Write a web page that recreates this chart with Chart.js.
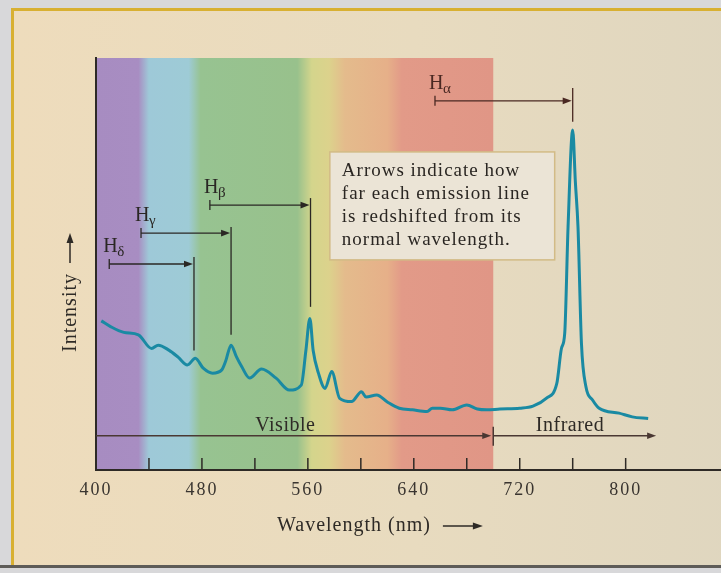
<!DOCTYPE html>
<html><head><meta charset="utf-8">
<script src="https://cdn.jsdelivr.net/npm/chart.js@4"></script>
<style>
html,body{margin:0;padding:0;background:#d4d4d6;}
#wrap{position:relative;width:721px;height:573px;overflow:hidden;background:#d8d8da;}
#frame{position:absolute;left:11px;top:8px;width:730px;height:554px;border:3px solid #d8b032;border-right:none;
  background:linear-gradient(90deg,#eedcbc 0%,#e8dbbf 55%,#dfd6bf 100%);}
#shade{position:absolute;left:0;top:565px;width:721px;height:3px;background:#5e5c58;}
canvas{position:absolute;left:0;top:0;}
</style></head>
<body><div id="wrap"><div id="frame"></div><div id="shade"></div><canvas id="c" width="721" height="573"></canvas></div>
<script>
// ---- data ----
const wavelengths = [404, 411, 421, 432, 442, 447, 455, 462, 469, 475, 481, 488, 495, 498, 502, 506, 510, 516, 525, 536, 546, 555, 558.5, 561.5, 564, 568, 573, 578, 584, 593, 600.5, 604, 612, 620, 629, 639, 650, 654, 660, 669, 680, 688, 695, 705, 720, 730, 740, 748, 751.5, 754, 756.5, 760, 762, 764, 766.6, 770, 775, 780, 795, 805, 817];
const intensities = [36.2, 34.8, 33.4, 32.8, 29.5, 30.3, 29.1, 27.4, 25.5, 27.1, 24.7, 23.5, 24.3, 26.5, 30.3, 27.5, 25.1, 22.3, 24.5, 22.3, 19.4, 20.6, 29.0, 36.8, 29.0, 23.5, 19.8, 23.9, 17.4, 16.6, 19.0, 17.7, 18.2, 16.5, 15.0, 14.6, 14.2, 15.0, 15.0, 14.6, 15.8, 14.8, 14.6, 14.8, 15.0, 15.5, 17.4, 21.0, 29.5, 33.3, 59.0, 82.5, 70.0, 59.0, 30.8, 20.2, 17.0, 15.0, 13.8, 12.9, 12.5];
const xTickLabels = [400, 480, 560, 640, 720, 800];
const xTickMarks = [440, 480, 520, 560, 600, 640, 680, 720, 760, 800];
const bandStops = [400, 432, 440, 470, 479, 552, 563, 576, 588, 620, 631, 700];
const bandColors = ['#a78cc1', '#a88dc2', '#9ec9d8', '#9ecbd6', '#97c391', '#98c18c', '#d4d58c', '#dcd28c', '#e4bb8c', '#e6b089', '#e29a88', '#e09686'];
const lineNames = ['δ', 'γ', 'β', 'α'];
const restWavelengths = [410, 434, 486, 656];
const observedWavelengths = [474, 502, 562, 760];
const arrowLevels = [50.0, 57.5, 64.3, 89.6];
const lineTops = [51.7, 59.0, 66.0, 92.7];
const lineBottoms = [29.0, 32.8, 39.6, 84.5];
const regionNames = ['Visible', 'Infrared'];
const regionStarts = [400, 700];
const regionEnds = [700, 823];
const regionLabelCenters = [543, 758];
const regionLevel = 8.3;
const noteLines = ['Arrows indicate how', 'far each emission line', 'is redshifted from its', 'normal wavelength.'];
const noteBox = {x0: 576.6, x1: 746.4, yTop: 77.2, yBottom: 51.0};
const xTitle = 'Wavelength (nm)';
const yTitle = 'Intensity';

const SERIF = '"Liberation Serif", "DejaVu Serif", serif';

function arrowHead(ctx, x, y, dir, len, half) {
  ctx.beginPath();
  if (dir === 'right') { ctx.moveTo(x, y); ctx.lineTo(x - len, y - half); ctx.lineTo(x - len, y + half); }
  ctx.closePath(); ctx.fill();
}

const decor = {
  id: 'decor',
  beforeDraw(chart) {
    const {ctx, chartArea} = chart;
    const xs = chart.scales.x;
    const x0 = xs.getPixelForValue(bandStops[0]);
    const x1 = xs.getPixelForValue(bandStops[bandStops.length - 1]);
    const g = ctx.createLinearGradient(x0, 0, x1, 0);
    bandStops.forEach((s, i) => g.addColorStop((s - bandStops[0]) / (bandStops[bandStops.length - 1] - bandStops[0]), bandColors[i]));
    ctx.save();
    ctx.fillStyle = g;
    ctx.fillRect(x0, chartArea.top, x1 - x0, chartArea.bottom - chartArea.top);
    ctx.restore();
    ctx.letterSpacing = '2px';
  },
  afterDatasetsDraw(chart) {
    const {ctx, chartArea} = chart;
    const xs = chart.scales.x, ys = chart.scales.y;
    const px = v => xs.getPixelForValue(v), py = v => ys.getPixelForValue(v);
    ctx.save();
    ctx.letterSpacing = '0px';
    // inward tick marks
    ctx.strokeStyle = '#2e2a26'; ctx.lineWidth = 1.5;
    xTickMarks.forEach(v => {
      ctx.beginPath(); ctx.moveTo(px(v), chartArea.bottom); ctx.lineTo(px(v), chartArea.bottom - 12); ctx.stroke();
    });
    // region arrows
    const ry = py(regionLevel);
    ctx.strokeStyle = '#4a3833'; ctx.fillStyle = '#4a3833'; ctx.lineWidth = 1.5;
    regionNames.forEach((name, i) => {
      const a = px(regionStarts[i]), b = px(regionEnds[i]);
      ctx.beginPath(); ctx.moveTo(a, ry); ctx.lineTo(b - 6, ry); ctx.stroke();
      arrowHead(ctx, i === 0 ? b - 2 : b, ry, 'right', 9, 3.2);
      ctx.font = '20px ' + SERIF; ctx.textAlign = 'center'; ctx.textBaseline = 'alphabetic';
      ctx.letterSpacing = '0.5px';
      ctx.fillStyle = '#2e2a26';
      ctx.fillText(name, px(regionLabelCenters[i]), ry - 5);
      ctx.letterSpacing = '0px';
      ctx.fillStyle = '#4a3833';
    });
    const vx = px(regionEnds[0]);
    ctx.beginPath(); ctx.moveTo(vx, ry - 9); ctx.lineTo(vx, ry + 10); ctx.stroke();
    // emission-line arrows
    lineNames.forEach((nm, i) => {
      const col = i === 3 ? '#4a2822' : '#2a2724';
      ctx.strokeStyle = col; ctx.fillStyle = col; ctx.lineWidth = 1.3;
      const y = py(arrowLevels[i]);
      const a = px(restWavelengths[i]), b = px(observedWavelengths[i]);
      ctx.beginPath(); ctx.moveTo(a, y - 5); ctx.lineTo(a, y + 5); ctx.stroke();
      ctx.beginPath(); ctx.moveTo(a, y); ctx.lineTo(b - 7, y); ctx.stroke();
      arrowHead(ctx, b - 1, y, 'right', 9, 3.3);
      ctx.beginPath(); ctx.moveTo(b, py(lineTops[i])); ctx.lineTo(b, py(lineBottoms[i])); ctx.stroke();
      ctx.textAlign = 'left'; ctx.textBaseline = 'alphabetic';
      ctx.font = '20px ' + SERIF;
      ctx.fillText('H', a - 6, y - 12);
      ctx.font = '15px ' + SERIF;
      ctx.fillText(nm, a + 8, y - 8);
    });
    // note box
    const bx0 = px(noteBox.x0), bx1 = px(noteBox.x1), by0 = py(noteBox.yTop), by1 = py(noteBox.yBottom);
    ctx.fillStyle = '#ebe4d6';
    ctx.fillRect(bx0, by0, bx1 - bx0, by1 - by0);
    ctx.strokeStyle = '#d2bb86'; ctx.lineWidth = 1.5;
    ctx.strokeRect(bx0, by0, bx1 - bx0, by1 - by0);
    ctx.fillStyle = '#2a2622';
    ctx.font = '19px ' + SERIF; ctx.textAlign = 'left'; ctx.textBaseline = 'alphabetic';
    ctx.letterSpacing = '1px';
    noteLines.forEach((t, i) => ctx.fillText(t, bx0 + 12, by0 + 24 + i * 23));
    // axis titles
    ctx.fillStyle = '#2e2a26'; ctx.strokeStyle = '#2e2a26';
    ctx.font = '20px ' + SERIF; ctx.letterSpacing = '1px';
    const tx = chartArea.left + 181, tyb = chartArea.bottom + 61;
    ctx.textAlign = 'left';
    ctx.fillText(xTitle, tx, tyb);
    const tw = ctx.measureText(xTitle).width;
    ctx.lineWidth = 1.5;
    ctx.beginPath(); ctx.moveTo(tx + tw + 12, tyb - 5); ctx.lineTo(tx + tw + 46, tyb - 5); ctx.stroke();
    arrowHead(ctx, tx + tw + 52, tyb - 5, 'right', 10, 3.5);
    // y title (rotated)
    ctx.save();
    const ax = chartArea.left - 26, ayb = chartArea.top + 294;
    ctx.translate(ax, ayb);
    ctx.rotate(-Math.PI / 2);
    ctx.textAlign = 'left'; ctx.textBaseline = 'alphabetic';
    ctx.fillText(yTitle, 0, 6);
    const yw = ctx.measureText(yTitle).width;
    ctx.beginPath(); ctx.moveTo(yw + 10, 0); ctx.lineTo(yw + 34, 0); ctx.stroke();
    arrowHead(ctx, yw + 40, 0, 'right', 10, 3.5);
    ctx.restore();
    ctx.restore();
  },
  afterDraw(chart) { chart.ctx.letterSpacing = '0px'; }
};

const points = wavelengths.map((w, i) => ({x: w, y: intensities[i]}));

new Chart(document.getElementById('c'), {
  type: 'line',
  data: { datasets: [{
    data: points,
    borderColor: '#1a8aa3',
    borderWidth: 3,
    pointRadius: 0,
    cubicInterpolationMode: 'monotone',
    fill: false
  }]},
  options: {
    responsive: false,
    animation: false,
    devicePixelRatio: 1,
    layout: { padding: { left: 96, top: 58, right: 0, bottom: 63 } },
    plugins: { legend: { display: false }, tooltip: { enabled: false } },
    scales: {
      x: {
        type: 'linear', min: 400, max: 872,
        afterFit: s => { s.paddingLeft = 0; s.paddingRight = 0; },
        grid: { display: false, drawTicks: false },
        border: { display: true, color: '#2e2a26', width: 2 },
        ticks: {
          stepSize: 40, autoSkip: false, maxRotation: 0, padding: 9.2,
          color: '#3a3530', font: { family: SERIF, size: 18 },
          callback: v => xTickLabels.includes(v) ? String(v) : ''
        }
      },
      y: {
        min: 0, max: 100,
        grid: { display: false, drawTicks: false },
        border: { display: true, color: '#2e2a26', width: 2 },
        ticks: { display: false }
      }
    }
  },
  plugins: [decor]
});
</script>
</body></html>
